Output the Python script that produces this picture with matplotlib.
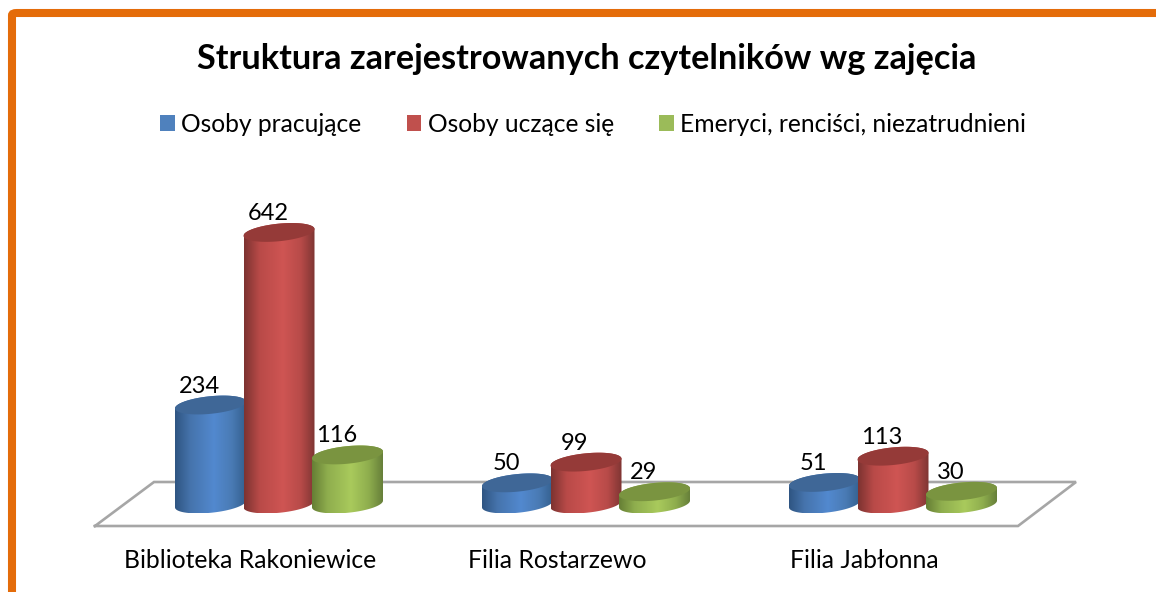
import numpy as np
import matplotlib
matplotlib.use("Agg")
import matplotlib.pyplot as plt
from matplotlib.patches import Patch, PathPatch, FancyBboxPatch
from matplotlib.path import Path
from matplotlib.colors import LinearSegmentedColormap
from matplotlib.transforms import ScaledTranslation

categories = ["Biblioteka Rakoniewice", "Filia Rostarzewo", "Filia Jabłonna"]
series_names = ["Osoby pracujące", "Osoby uczące się", "Emeryci, renciści, niezatrudnieni"]
pracujace = [234, 50, 51]
uczace = [642, 99, 113]
emeryci = [116, 29, 30]
series_values = [pracujace, uczace, emeryci]
solid = ["#4f81bd", "#c0504d", "#9bbb59"]
top_cols = ["#3f6797", "#953a38", "#7a9440"]
grad = [["#2f5582", "#4674ad", "#5289cf", "#4a7bb5", "#34608f"],
        ["#7d3331", "#b94a48", "#cf5553", "#b84b49", "#7f3533"],
        ["#667f35", "#8fae4e", "#a9ca5c", "#8fae4e", "#67803a"]]

W, H = 1156, 592
plt.rcParams['font.family'] = ['Lato', 'DejaVu Sans']
fig = plt.figure(figsize=(W / 100, H / 100), dpi=100, facecolor="white")

# axes box in pixels
BOTTOM = 530
ax = fig.add_axes([0, (H - BOTTOM) / H, 1, BOTTOM / H])
PX_X = 307.0      # pixels per category
PX_Y = 0.423      # pixels per reader
X0 = 279.0        # pixel of category 0
Y0 = 504.0        # pixel of value 0
ax.set_xlim(-X0 / PX_X, (W - X0) / PX_X)
ax.set_ylim(-(BOTTOM - Y0) / PX_Y, Y0 / PX_Y)
ax.patch.set_alpha(0)
for s in ax.spines.values():
    s.set_visible(False)
ax.yaxis.set_visible(False)

def dx(px):
    return px / PX_X

def dy(px):
    return px / PX_Y

def px_to_data(x, y):
    return ((x - X0) / PX_X, (Y0 - y) / PX_Y)

# frame (runs off the right and bottom edges)
fig.add_artist(FancyBboxPatch((12 / W, (H - 700) / H), 1300 / W, (700 - 13) / H,
                              boxstyle="round,pad=0,rounding_size=0.004",
                              transform=fig.transFigure, fc="none", ec="#e46c0a", lw=5.8))

# floor
floor = [px_to_data(95, 526), px_to_data(154, 482), px_to_data(1076, 482), px_to_data(1018, 526), px_to_data(95, 526)]
ax.plot(*zip(*floor), color="#a6a6a6", lw=1.9, solid_joinstyle="miter", clip_on=False, zorder=1)

A_PX, B_PX, SHEAR, STEP = 35.5, 8.8, 0.095, 68.5
t = np.linspace(0, 2 * np.pi, 121)

def ellipse(cx, cy):
    x = cx + dx(A_PX) * np.cos(t)
    y = cy + dy(B_PX) * np.sin(t) + dy(SHEAR * A_PX) * np.cos(t)
    return x, y

def draw(cx, val, i, z):
    ex, ey = ellipse(cx, val)
    bx, by = ellipse(cx, 0)
    idx = np.arange(len(t))
    top_half = idx[t <= np.pi]
    bot_half = idx[t >= np.pi]
    px_ = np.r_[ex[top_half], bx[bot_half]]
    py_ = np.r_[ey[top_half], by[bot_half]]
    verts = np.c_[px_, py_]
    path = Path(np.r_[verts, verts[:1]], closed=True)
    cmap = LinearSegmentedColormap.from_list("c", list(zip([0, .22, .55, .8, 1], grad[i])))
    left, right = cx - dx(A_PX), cx + dx(A_PX)
    y_lo, y_hi = py_.min(), py_.max()
    im = ax.imshow(np.linspace(0, 1, 128)[None, :], cmap=cmap, aspect="auto",
                   extent=(left, right, y_lo, y_hi), zorder=z, interpolation="bilinear")
    clip = PathPatch(path, transform=ax.transData, fc="none", ec="none")
    ax.add_patch(clip)
    im.set_clip_path(clip)
    ax.fill(ex, ey, color=top_cols[i], lw=0, zorder=z + 0.1)
    ax.text(cx + dx(-11), val + dy(19), str(val), ha="center", va="center",
            fontsize=17, color="black", zorder=20)

xlim, ylim = ax.get_xlim(), ax.get_ylim()
for g in range(len(categories)):
    for i, vals in enumerate(series_values):
        draw(g + dx((i - 1) * STEP), vals[g], i, 2 + i + g * 3)
ax.set_xlim(xlim)
ax.set_ylim(ylim)

# category labels
ax.set_xticks(range(len(categories)))
ax.set_xticklabels(categories, fontsize=17.8, color="black")
ax.tick_params(axis="x", length=0, pad=14)
shift = ScaledTranslation(-29 / 100, 0, fig.dpi_scale_trans)
for lab in ax.get_xticklabels():
    lab.set_transform(lab.get_transform() + shift)

# title and legend
fig.text(587 / W, 1 - 59 / H, "Struktura zarejestrowanych czytelników wg zajęcia",
         ha="center", va="center", fontsize=24.7, fontweight="bold", color="black")
handles = [Patch(facecolor=c, edgecolor="none", label=n) for c, n in zip(solid, series_names)]
fig.legend(handles=handles, ncol=3, loc="center", bbox_to_anchor=(593 / W, 1 - 124 / H),
           frameon=False, fontsize=17.7, handlelength=0.6, handleheight=0.6,
           handletextpad=0.25, columnspacing=1.85)

fig.savefig("out.png", dpi=100)
